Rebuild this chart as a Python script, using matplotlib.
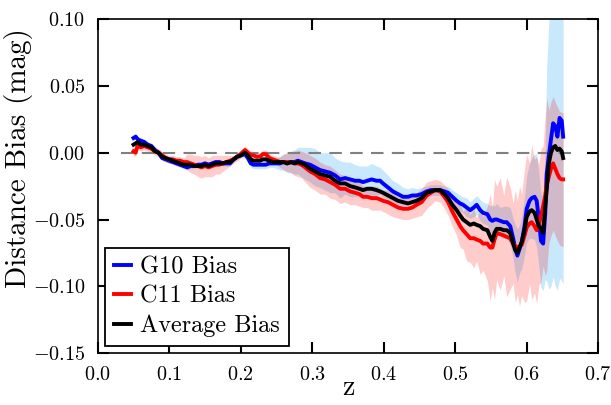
import numpy as np
import matplotlib
matplotlib.use('Agg')
import matplotlib.pyplot as plt

plt.rcParams['font.family'] = 'serif'
plt.rcParams['font.serif'] = ['cmr10']
plt.rcParams['mathtext.fontset'] = 'cm'
plt.rcParams['axes.formatter.use_mathtext'] = True
plt.rcParams['axes.unicode_minus'] = True

# redshift grid
z = [0.050, 0.053, 0.056, 0.060, 0.065, 0.070, 0.075, 0.080, 0.085, 0.090,
     0.095, 0.100, 0.105, 0.110, 0.115, 0.120, 0.125, 0.130, 0.135, 0.140,
     0.145, 0.150, 0.155, 0.160, 0.165, 0.170, 0.175, 0.180, 0.185, 0.190,
     0.195, 0.200, 0.206, 0.210, 0.214, 0.218, 0.222, 0.227, 0.231, 0.235,
     0.240, 0.245, 0.250, 0.255, 0.260, 0.265, 0.270, 0.275, 0.280, 0.285,
     0.290, 0.297, 0.304, 0.311, 0.318, 0.325, 0.332, 0.339, 0.346, 0.353,
     0.360, 0.366, 0.371, 0.377, 0.383, 0.390, 0.395, 0.399, 0.406, 0.413,
     0.420, 0.427, 0.434, 0.440, 0.446, 0.453, 0.460, 0.466, 0.472, 0.479,
     0.485, 0.490, 0.496, 0.502, 0.507, 0.511, 0.516, 0.521, 0.526, 0.530,
     0.535, 0.539, 0.545, 0.549, 0.552, 0.555, 0.558, 0.563, 0.568, 0.572,
     0.577, 0.581, 0.584, 0.587, 0.590, 0.593, 0.597, 0.600, 0.604, 0.607,
     0.611, 0.614, 0.617, 0.620, 0.623, 0.626, 0.628, 0.631, 0.634, 0.637,
     0.640, 0.643, 0.646, 0.649, 0.651]

g10 = [0.011, 0.012, 0.010, 0.009, 0.008, 0.006, 0.005, 0.002, 0.000, -0.004,
       -0.005, -0.006, -0.007, -0.008, -0.009, -0.010, -0.011, -0.010, -0.010, -0.009,
       -0.009, -0.008, -0.009, -0.008, -0.007, -0.007, -0.008, -0.008, -0.008, -0.005,
       -0.003, -0.002, -0.001, -0.004, -0.008, -0.009, -0.009, -0.009, -0.009, -0.009,
       -0.008, -0.008, -0.008, -0.008, -0.007, -0.008, -0.007, -0.007, -0.006, -0.007,
       -0.008, -0.009, -0.011, -0.013, -0.014, -0.015, -0.017, -0.020, -0.019, -0.020,
       -0.021, -0.021, -0.022, -0.021, -0.020, -0.021, -0.021, -0.023, -0.026, -0.029,
       -0.031, -0.033, -0.033, -0.032, -0.032, -0.031, -0.029, -0.028, -0.028, -0.028,
       -0.029, -0.030, -0.033, -0.036, -0.038, -0.039, -0.041, -0.043, -0.041, -0.039,
       -0.043, -0.045, -0.046, -0.050, -0.051, -0.050, -0.050, -0.051, -0.052, -0.052,
       -0.055, -0.064, -0.072, -0.077, -0.072, -0.067, -0.055, -0.042, -0.036, -0.034,
       -0.033, -0.036, -0.050, -0.066, -0.068, -0.045, -0.016, -0.002, 0.010, 0.022,
       0.020, 0.012, 0.026, 0.024, 0.012]

c11 = [0.001, 0.000, 0.006, 0.004, 0.005, 0.004, 0.003, 0.001, 0.000, -0.002,
       -0.004, -0.005, -0.005, -0.006, -0.006, -0.007, -0.007, -0.008, -0.009, -0.010,
       -0.011, -0.010, -0.011, -0.010, -0.009, -0.009, -0.008, -0.007, -0.006, -0.005,
       -0.003, -0.001, 0.002, 0.000, -0.002, -0.002, -0.003, -0.003, -0.001, -0.001,
       -0.004, -0.005, -0.006, -0.007, -0.007, -0.007, -0.007, -0.008, -0.008, -0.009,
       -0.011, -0.014, -0.016, -0.019, -0.020, -0.022, -0.024, -0.027, -0.027, -0.029,
       -0.030, -0.031, -0.033, -0.033, -0.034, -0.034, -0.035, -0.036, -0.037, -0.039,
       -0.041, -0.042, -0.042, -0.041, -0.039, -0.037, -0.032, -0.030, -0.028, -0.029,
       -0.033, -0.037, -0.044, -0.050, -0.055, -0.058, -0.061, -0.064, -0.064, -0.065,
       -0.066, -0.068, -0.068, -0.071, -0.071, -0.065, -0.060, -0.061, -0.062, -0.063,
       -0.064, -0.068, -0.070, -0.071, -0.070, -0.069, -0.062, -0.056, -0.053, -0.052,
       -0.055, -0.058, -0.054, -0.047, -0.040, -0.032, -0.024, -0.018, -0.012, -0.008,
       -0.012, -0.016, -0.019, -0.020, -0.020]

avg = [0.006, 0.007, 0.008, 0.006, 0.006, 0.005, 0.004, 0.001, 0.000, -0.003,
       -0.004, -0.005, -0.006, -0.007, -0.008, -0.009, -0.009, -0.009, -0.010, -0.010,
       -0.010, -0.009, -0.010, -0.009, -0.008, -0.008, -0.008, -0.007, -0.007, -0.005,
       -0.003, -0.002, 0.000, -0.002, -0.005, -0.006, -0.006, -0.006, -0.005, -0.005,
       -0.006, -0.007, -0.007, -0.007, -0.007, -0.008, -0.007, -0.008, -0.007, -0.008,
       -0.009, -0.012, -0.014, -0.016, -0.017, -0.018, -0.021, -0.023, -0.023, -0.025,
       -0.026, -0.027, -0.028, -0.027, -0.027, -0.028, -0.029, -0.030, -0.032, -0.034,
       -0.036, -0.037, -0.038, -0.037, -0.036, -0.034, -0.030, -0.029, -0.028, -0.028,
       -0.031, -0.034, -0.039, -0.043, -0.047, -0.050, -0.052, -0.054, -0.053, -0.054,
       -0.055, -0.057, -0.058, -0.063, -0.066, -0.060, -0.057, -0.057, -0.058, -0.058,
       -0.060, -0.068, -0.073, -0.075, -0.071, -0.067, -0.058, -0.048, -0.044, -0.043,
       -0.045, -0.050, -0.055, -0.057, -0.060, -0.040, -0.028, -0.008, 0.000, 0.004,
       0.005, 0.002, 0.003, 0.001, -0.004]

# scatter of the bias (half width of shaded band)
g10_err = [0.002] * 32 + [0.003] * 10 + [
    0.004, 0.005, 0.006, 0.007, 0.008, 0.009, 0.010, 0.011,
    0.012, 0.013, 0.014, 0.013, 0.014, 0.015, 0.013, 0.014, 0.012, 0.013,
    0.012, 0.011, 0.012, 0.011, 0.012, 0.011, 0.010, 0.010, 0.009, 0.008,
    0.008, 0.007, 0.006, 0.006, 0.005, 0.005, 0.004, 0.004, 0.004, 0.004,
    0.004, 0.005, 0.005, 0.006, 0.006, 0.006, 0.007, 0.006, 0.007, 0.007,
    0.008, 0.008, 0.008, 0.010, 0.012, 0.010, 0.012, 0.010, 0.012, 0.012,
    0.014, 0.015, 0.018, 0.020, 0.018, 0.020, 0.022, 0.025, 0.028, 0.030,
    0.032, 0.035, 0.035, 0.035, 0.035, 0.050, 0.080, 0.100, 0.110, 0.115,
    0.120, 0.115, 0.120, 0.120, 0.110]

c11_err = [0.003] * 16 + [
    0.006, 0.007, 0.007, 0.008,
    0.008, 0.008, 0.007, 0.008, 0.007, 0.007, 0.006, 0.005, 0.004, 0.003] + [0.003] * 13 + [
    0.004, 0.006, 0.007, 0.008, 0.009, 0.010, 0.010,
    0.011, 0.012, 0.012, 0.012, 0.011, 0.012, 0.011, 0.011, 0.010, 0.010,
    0.009, 0.009, 0.008, 0.008, 0.009, 0.009, 0.008, 0.008, 0.009, 0.009,
    0.008, 0.008, 0.008, 0.008, 0.009, 0.010, 0.010, 0.009, 0.008, 0.008,
    0.009, 0.010, 0.011, 0.012, 0.016, 0.014, 0.020, 0.018, 0.022, 0.016,
    0.025, 0.020, 0.028, 0.040, 0.030, 0.045, 0.035, 0.042, 0.030, 0.045,
    0.038, 0.030, 0.042, 0.035, 0.045, 0.038, 0.050, 0.055, 0.045, 0.058,
    0.050, 0.055, 0.045, 0.050, 0.045, 0.060, 0.065, 0.050, 0.050, 0.050,
    0.050, 0.050, 0.050, 0.050, 0.050]

z = np.array(z)
g10 = np.array(g10)
c11 = np.array(c11)
avg = np.array(avg)
g10_err = np.array(g10_err)
c11_err = np.array(c11_err)

fig = plt.figure(figsize=(6.11, 4.05), dpi=100)
ax = fig.add_axes([0.160, 0.128, 0.819, 0.825])

ax.fill_between(z, g10 - g10_err, g10 + g10_err, color='#87CEFA', alpha=0.45, lw=0)
ax.fill_between(z, c11 - c11_err, c11 + c11_err, color='red', alpha=0.2, lw=0)

ax.plot([0.033, 0.667], [0, 0], color='gray', lw=1.5, dashes=(6, 4))

ax.plot(z, g10, color='blue', lw=2.8, label='G10 Bias')
ax.plot(z, c11, color='red', lw=2.8, label='C11 Bias')
ax.plot(z, avg, color='black', lw=2.8, label='Average Bias')

ax.set_xlim(0.0, 0.7)
ax.set_ylim(-0.15, 0.10)
ax.set_xticks(np.arange(0.0, 0.71, 0.1))
ax.set_yticks(np.arange(-0.15, 0.101, 0.05))
ax.tick_params(direction='in', top=True, right=True, length=8, width=1.5,
               pad=9, labelsize=14.5)
for sp in ax.spines.values():
    sp.set_linewidth(1.2)

ax.set_xlabel('z', fontsize=20)
ax.xaxis.set_label_coords(0.5, -0.063)
ax.set_ylabel('Distance Bias (mag)', fontsize=21)
ax.yaxis.set_label_coords(-0.13, 0.585)

leg = ax.legend(loc='lower left', fontsize=17.5, fancybox=False, framealpha=1,
                edgecolor='black', handlelength=0.7, handletextpad=0.4,
                labelspacing=0.3, borderpad=0.35, borderaxespad=0.3)
leg.get_frame().set_linewidth(1.3)

fig.savefig('out.png', dpi=100)
